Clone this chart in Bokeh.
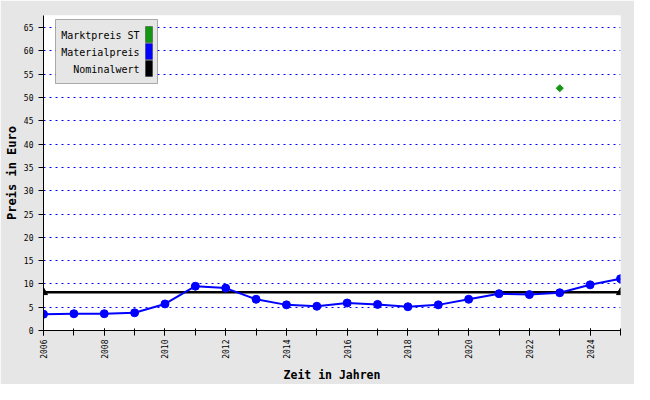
import math
from bokeh.plotting import figure
from bokeh.models import Range1d, SingleIntervalTicker, FixedTicker, BoxAnnotation, Label
from bokeh.embed import file_html
from bokeh.resources import INLINE

# ---- data ----
years = list(range(2006, 2026))
material = [3.5, 3.6, 3.6, 3.8, 5.7, 9.5, 9.1, 6.7, 5.5, 5.2,
            5.9, 5.6, 5.1, 5.5, 6.7, 7.9, 7.7, 8.1, 9.8, 11.1]
nominal_years = [2006, 2025]
nominal = [8.2, 8.2]
markt_years = [2023]
markt = [52.0]
y_ticks = list(range(0, 70, 5))
legend_labels = ["Marktpreis ST", "Materialpreis", "Nominalwert"]
legend_colors = ["#149614", "#0000ff", "#000000"]

BG = "#e6e6e6"
MONO = "DejaVu Sans Mono"

W, HGT = 634, 384
BL, BR, BT, BB = 43, 14, 15, 53

p = figure(width=W, height=HGT,
           x_range=Range1d(2006, 2025), y_range=Range1d(0, 67.6),
           output_backend="svg", toolbar_location=None,
           min_border_left=BL, min_border_right=BR, min_border_top=BT, min_border_bottom=BB)
p.border_fill_color = BG
p.background_fill_color = "white"
p.outline_line_color = None

# grid
p.xgrid.grid_line_color = None
p.ygrid.ticker = FixedTicker(ticks=y_ticks[1:])
p.ygrid.grid_line_color = "#0000ff"
p.ygrid.grid_line_dash = "2 4"
p.ygrid.grid_line_width = 1

# axes
p.xaxis.ticker = SingleIntervalTicker(interval=2, num_minor_ticks=2)
p.yaxis.ticker = FixedTicker(ticks=y_ticks)
for ax in (p.xaxis[0], p.yaxis[0]):
    ax.axis_line_color = "black"
    ax.major_tick_line_color = "black"
    ax.minor_tick_line_color = "black"
    ax.major_label_text_font = MONO
    ax.major_label_text_font_size = "8px"
    ax.major_label_text_color = "black"
    ax.axis_label_text_font = MONO
    ax.axis_label_text_font_style = "bold"
    ax.axis_label_text_color = "black"
    ax.axis_label_standoff = 2
p.xaxis.major_tick_out = 5
p.xaxis.major_tick_in = 2
p.xaxis.minor_tick_out = 5
p.xaxis.minor_tick_in = 2
p.xaxis.major_label_orientation = math.pi / 2
p.xaxis.major_label_standoff = 4
p.xaxis.axis_label = "Zeit in Jahren"
p.xaxis.axis_label_text_font_size = "11.5px"
p.xaxis.axis_label_standoff = 6
p.yaxis.major_tick_out = 5
p.yaxis.major_tick_in = 0
p.yaxis.minor_tick_line_color = None
p.yaxis.major_label_standoff = 5
p.yaxis.axis_label = "Preis in Euro"
p.yaxis.axis_label_text_font_size = "12px"

# series
p.line(nominal_years, nominal, line_color=legend_colors[2], line_width=2.5)
p.scatter(nominal_years, nominal, marker="triangle", size=8,
          fill_color=legend_colors[2], line_color=legend_colors[2])
p.line(years, material, line_color=legend_colors[1], line_width=2)
p.scatter(years, material, marker="circle", size=8,
          fill_color=legend_colors[1], line_color=legend_colors[1])
p.scatter(markt_years, markt, marker="square", size=5, angle=math.pi / 4,
          fill_color=legend_colors[0], line_color=legend_colors[0])

# custom legend (text left of colour swatch), positioned from the frame top-left
H = HGT - BT - BB  # frame height in pixels
p.add_layout(BoxAnnotation(left=12, right=114, top=H - 5, bottom=H - 69,
                           left_units="screen", right_units="screen",
                           top_units="screen", bottom_units="screen",
                           fill_color=BG, fill_alpha=1, line_color="black", line_width=1))
for i, (lab, col) in enumerate(zip(legend_labels, legend_colors)):
    top = 12 + 17 * i
    p.add_layout(BoxAnnotation(left=102, right=109, top=H - top, bottom=H - top - 16,
                               left_units="screen", right_units="screen",
                               top_units="screen", bottom_units="screen",
                               fill_color=col, fill_alpha=1, line_color="black", line_width=1))
    p.add_layout(Label(x=96, y=H - top - 9, x_units="screen", y_units="screen",
                       text=lab, text_align="right", text_baseline="middle",
                       text_font=MONO, text_font_size="10px", text_color="black"))

open("out.html", "w").write(file_html(p, INLINE))
